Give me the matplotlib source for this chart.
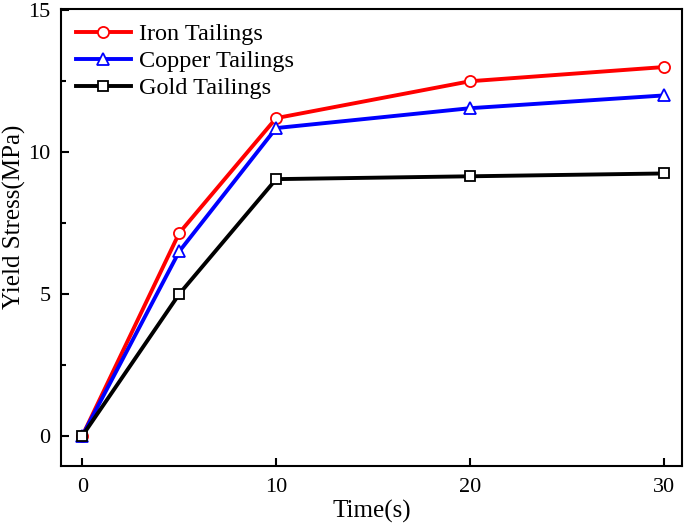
import matplotlib
matplotlib.use("Agg")
import matplotlib.pyplot as plt
from matplotlib.ticker import MultipleLocator

time_s = [0, 5, 10, 20, 30]
iron = [0, 7.15, 11.2, 12.5, 13.0]
copper = [0, 6.5, 10.85, 11.55, 12.0]
gold = [0, 5.0, 9.05, 9.15, 9.25]
labels = ["Iron Tailings", "Copper Tailings", "Gold Tailings"]

plt.rcParams['font.family'] = ['Liberation Serif', 'DejaVu Serif']
plt.rcParams['mathtext.fontset'] = 'stix'

fig = plt.figure(figsize=(6.85, 5.23), dpi=100)
ax = fig.add_axes([0.089, 0.109, 0.907, 0.874])

ax.plot(time_s, iron, '-o', color='#ff0000', mec='#ff0000', label=labels[0],
        lw=2.8, ms=8, mew=1.3, mfc='white')
ax.plot(time_s, copper, '-^', color='#0000ff', mec='#0000ff', label=labels[1],
        lw=2.8, ms=9, mew=1.3, mfc='white')
ax.plot(time_s, gold, '-s', color='black', mec='black', label=labels[2],
        lw=2.8, ms=7, mew=1.3, mfc='white')

ax.set_xlim(-1.1, 30.95)
ax.set_ylim(-1.06, 15.05)
ax.xaxis.set_major_locator(MultipleLocator(10))
ax.yaxis.set_major_locator(MultipleLocator(5))
ax.yaxis.set_minor_locator(MultipleLocator(2.5))
ax.tick_params(axis='both', which='major', direction='in', length=6, width=1.5, labelsize=16,
               top=False, right=False)
ax.tick_params(axis='x', which='major', pad=8.5)
ax.tick_params(axis='y', which='major', pad=7.5)
ax.tick_params(axis='y', which='minor', direction='in', length=3.5, width=1.5)
for s in ax.spines.values():
    s.set_linewidth(1.5)

ax.set_xlabel("Time(s)", fontsize=18, labelpad=2.5)
ax.set_ylabel("Yield Stress(MPa)", fontsize=18)
ax.yaxis.set_label_coords(-0.057, 0.545)

leg = ax.legend(loc='upper left', frameon=False, fontsize=17.5, handlelength=2.3,
                borderaxespad=0.2, borderpad=0.4, labelspacing=0.2, handletextpad=0.3)

fig.savefig("out.png", dpi=100)
